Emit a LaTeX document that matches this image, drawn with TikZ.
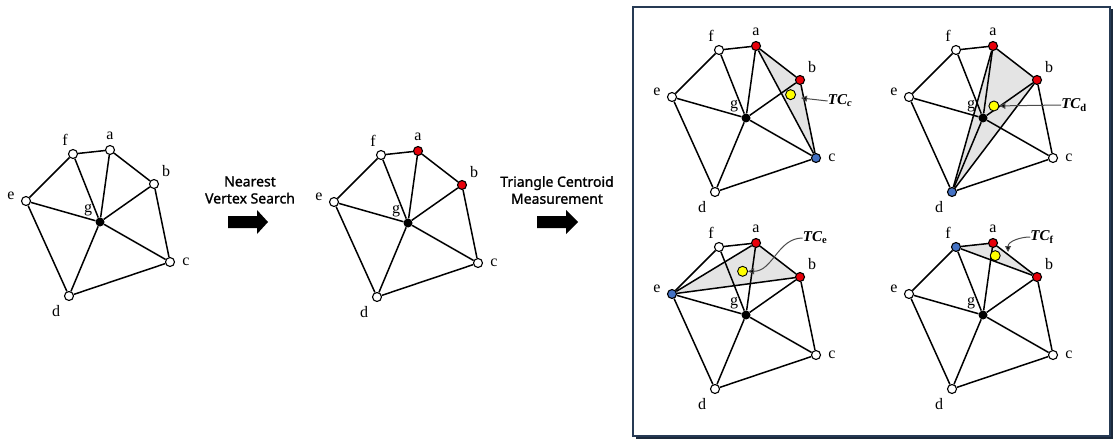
\documentclass[tikz,border=0pt]{standalone}
\usepackage{fontspec}
\setmainfont{Liberation Serif}
\newfontfamily\labsans[FakeBold=1.3]{Noto Sans}
\usetikzlibrary{calc,backgrounds,arrows.meta}
\definecolor{vred}{RGB}{232,0,10}
\definecolor{vblue}{RGB}{68,114,196}
\definecolor{vyel}{RGB}{255,255,0}
\definecolor{shadecol}{RGB}{228,228,228}
\definecolor{framecol}{RGB}{38,58,84}
\tikzset{
  vtx/.style={circle,draw=black,line width=1.1pt,inner sep=0pt,minimum size=9pt},
  gvtx/.style={circle,fill=black,inner sep=0pt,minimum size=9pt},
  cen/.style={circle,draw=black,fill=vyel,line width=0.9pt,inner sep=0pt,minimum size=10pt},
  edge/.style={line width=1.5pt,black},
  lbl/.style={font=\fontsize{16}{16}\selectfont,inner sep=0pt},
  tcl/.style={font=\fontsize{15}{15}\selectfont\bfseries\itshape,inner sep=0pt},
  ptr/.style={draw=black!70,line width=1pt,-{Triangle[length=6pt,width=6pt,fill=black]}},
  steptxt/.style={font=\labsans\fontsize{14}{17}\selectfont,align=center,inner sep=0pt},
  blockarrow/.style={fill=black},
}
\newcommand\mkgraph[8]{%
  \begin{scope}[shift={#2}]
    \node[vtx,fill=#3] (#1a) at (110,150) {};
    \node[vtx,fill=#4] (#1b) at (154,184) {};
    \node[vtx,fill=#5] (#1c) at (170,262) {};
    \node[vtx,fill=#6] (#1d) at (69,296) {};
    \node[vtx,fill=#7] (#1e) at (26,201) {};
    \node[vtx,fill=#8] (#1f) at (73,154) {};
    \node[gvtx] (#1g) at (100,222) {};
    \node[lbl] (#1la) at (110,136) {a};
    \node[lbl] (#1lb) at (166,171) {b};
    \node[lbl] (#1lc) at (186,262) {c};
    \node[lbl] (#1ld) at (56,311) {d};
    \node[lbl] (#1le) at (11,196) {e};
    \node[lbl] (#1lf) at (65,140) {f};
    \node[lbl] (#1lg) at (88,210) {g};
  \end{scope}
  \foreach \u/\v in {e/f,f/a,a/b,b/c,c/d,d/e,g/a,g/b,g/c,g/d,g/e,g/f}
    \draw[edge] (#1\u) -- (#1\v);
}
\begin{document}
\begin{tikzpicture}[x=1pt,y=-1pt]
\useasboundingbox (0,0) rectangle (1113,441);

% left and middle graphs
\mkgraph{L}{(0,0)}{white}{white}{white}{white}{white}{white}
\mkgraph{M}{(308,1)}{vred}{vred}{white}{white}{white}{white}

% step arrows and texts
\node[steptxt] (t1) at (250,190) {Nearest\\Vertex Search};
\fill[blockarrow] (228,216) -- (257,216) -- (257,210) -- (268,222) -- (257,234) -- (257,228) -- (228,228) -- cycle;
\node[steptxt] (t2) at (557,190) {Triangle Centroid\\Measurement};
\fill[blockarrow] (537,216) -- (566,216) -- (566,210) -- (578,222) -- (566,234) -- (566,228) -- (537,228) -- cycle;

% frame
\draw[framecol,line width=1.6pt] (633,7) rectangle (1110,436);
\draw[framecol!70!black,line width=1.4pt] (1112,9) -- (1112,438) -- (636,438);

% panel 1: triangle a-b-c
\mkgraph{P}{(646,-104)}{vred}{vred}{vblue}{white}{white}{white}
\begin{scope}[on background layer]
  \fill[shadecol] (Pa.center) -- (Pb.center) -- (Pc.center) -- cycle;
\end{scope}
\draw[edge] (Pa) -- (Pc);
\node[cen] (Py) at ($0.3333*(Pa)+0.3333*(Pb)+0.3333*(Pc)$) {};
\node[tcl] (Ptc) at (840,101) {TC\textsubscript{c}};
\coordinate (Ptip) at (801,98);
\draw[ptr] (Ptc.west) -- (Ptip);

% panel 2: triangle a-b-d
\mkgraph{Q}{(883,-104)}{vred}{vred}{white}{vblue}{white}{white}
\begin{scope}[on background layer]
  \fill[shadecol] (Qa.center) -- (Qb.center) -- (Qd.center) -- cycle;
\end{scope}
\draw[edge] (Qa) -- (Qd);
\draw[edge] (Qb) -- (Qd);
\node[cen] (Qy) at ($0.3333*(Qa)+0.3333*(Qb)+0.3333*(Qd)$) {};
\node[tcl] (Qtc) at (1074,105) {TC\textsubscript{\upshape d}};
\draw[ptr] (Qtc.west) -- (Qy);

% panel 3: triangle e-a-b
\mkgraph{R}{(646,93)}{vred}{vred}{white}{white}{vblue}{white}
\begin{scope}[on background layer]
  \fill[shadecol] (Re.center) -- (Ra.center) -- (Rb.center) -- cycle;
\end{scope}
\draw[edge] (Re) -- (Ra);
\draw[edge] (Re) -- (Rb);
\node[cen] (Ry) at ($0.3333*(Ra)+0.3333*(Rb)+0.3333*(Re)$) {};
\node[tcl] (Rtc) at (815,238) {TC\textsubscript{\upshape e}};
\draw[ptr] (Rtc.west) to[out=180,in=0] (Ry);

% panel 4: triangle f-a-b
\mkgraph{S}{(883,93)}{vred}{vred}{white}{white}{white}{vblue}
\begin{scope}[on background layer]
  \fill[shadecol] (Sf.center) -- (Sa.center) -- (Sb.center) -- cycle;
\end{scope}
\draw[edge] (Sf) -- (Sb);
\node[cen] (Sy) at ($0.3333*(Sa)+0.3333*(Sb)+0.3333*(Sf)$) {};
\node[tcl] (Stc) at (1042,237) {TC\textsubscript{\upshape f}};
\coordinate (Stip) at (1008,252);
\draw[ptr] (Stc.west) to[out=180,in=90] (Stip);
\end{tikzpicture}
\end{document}
